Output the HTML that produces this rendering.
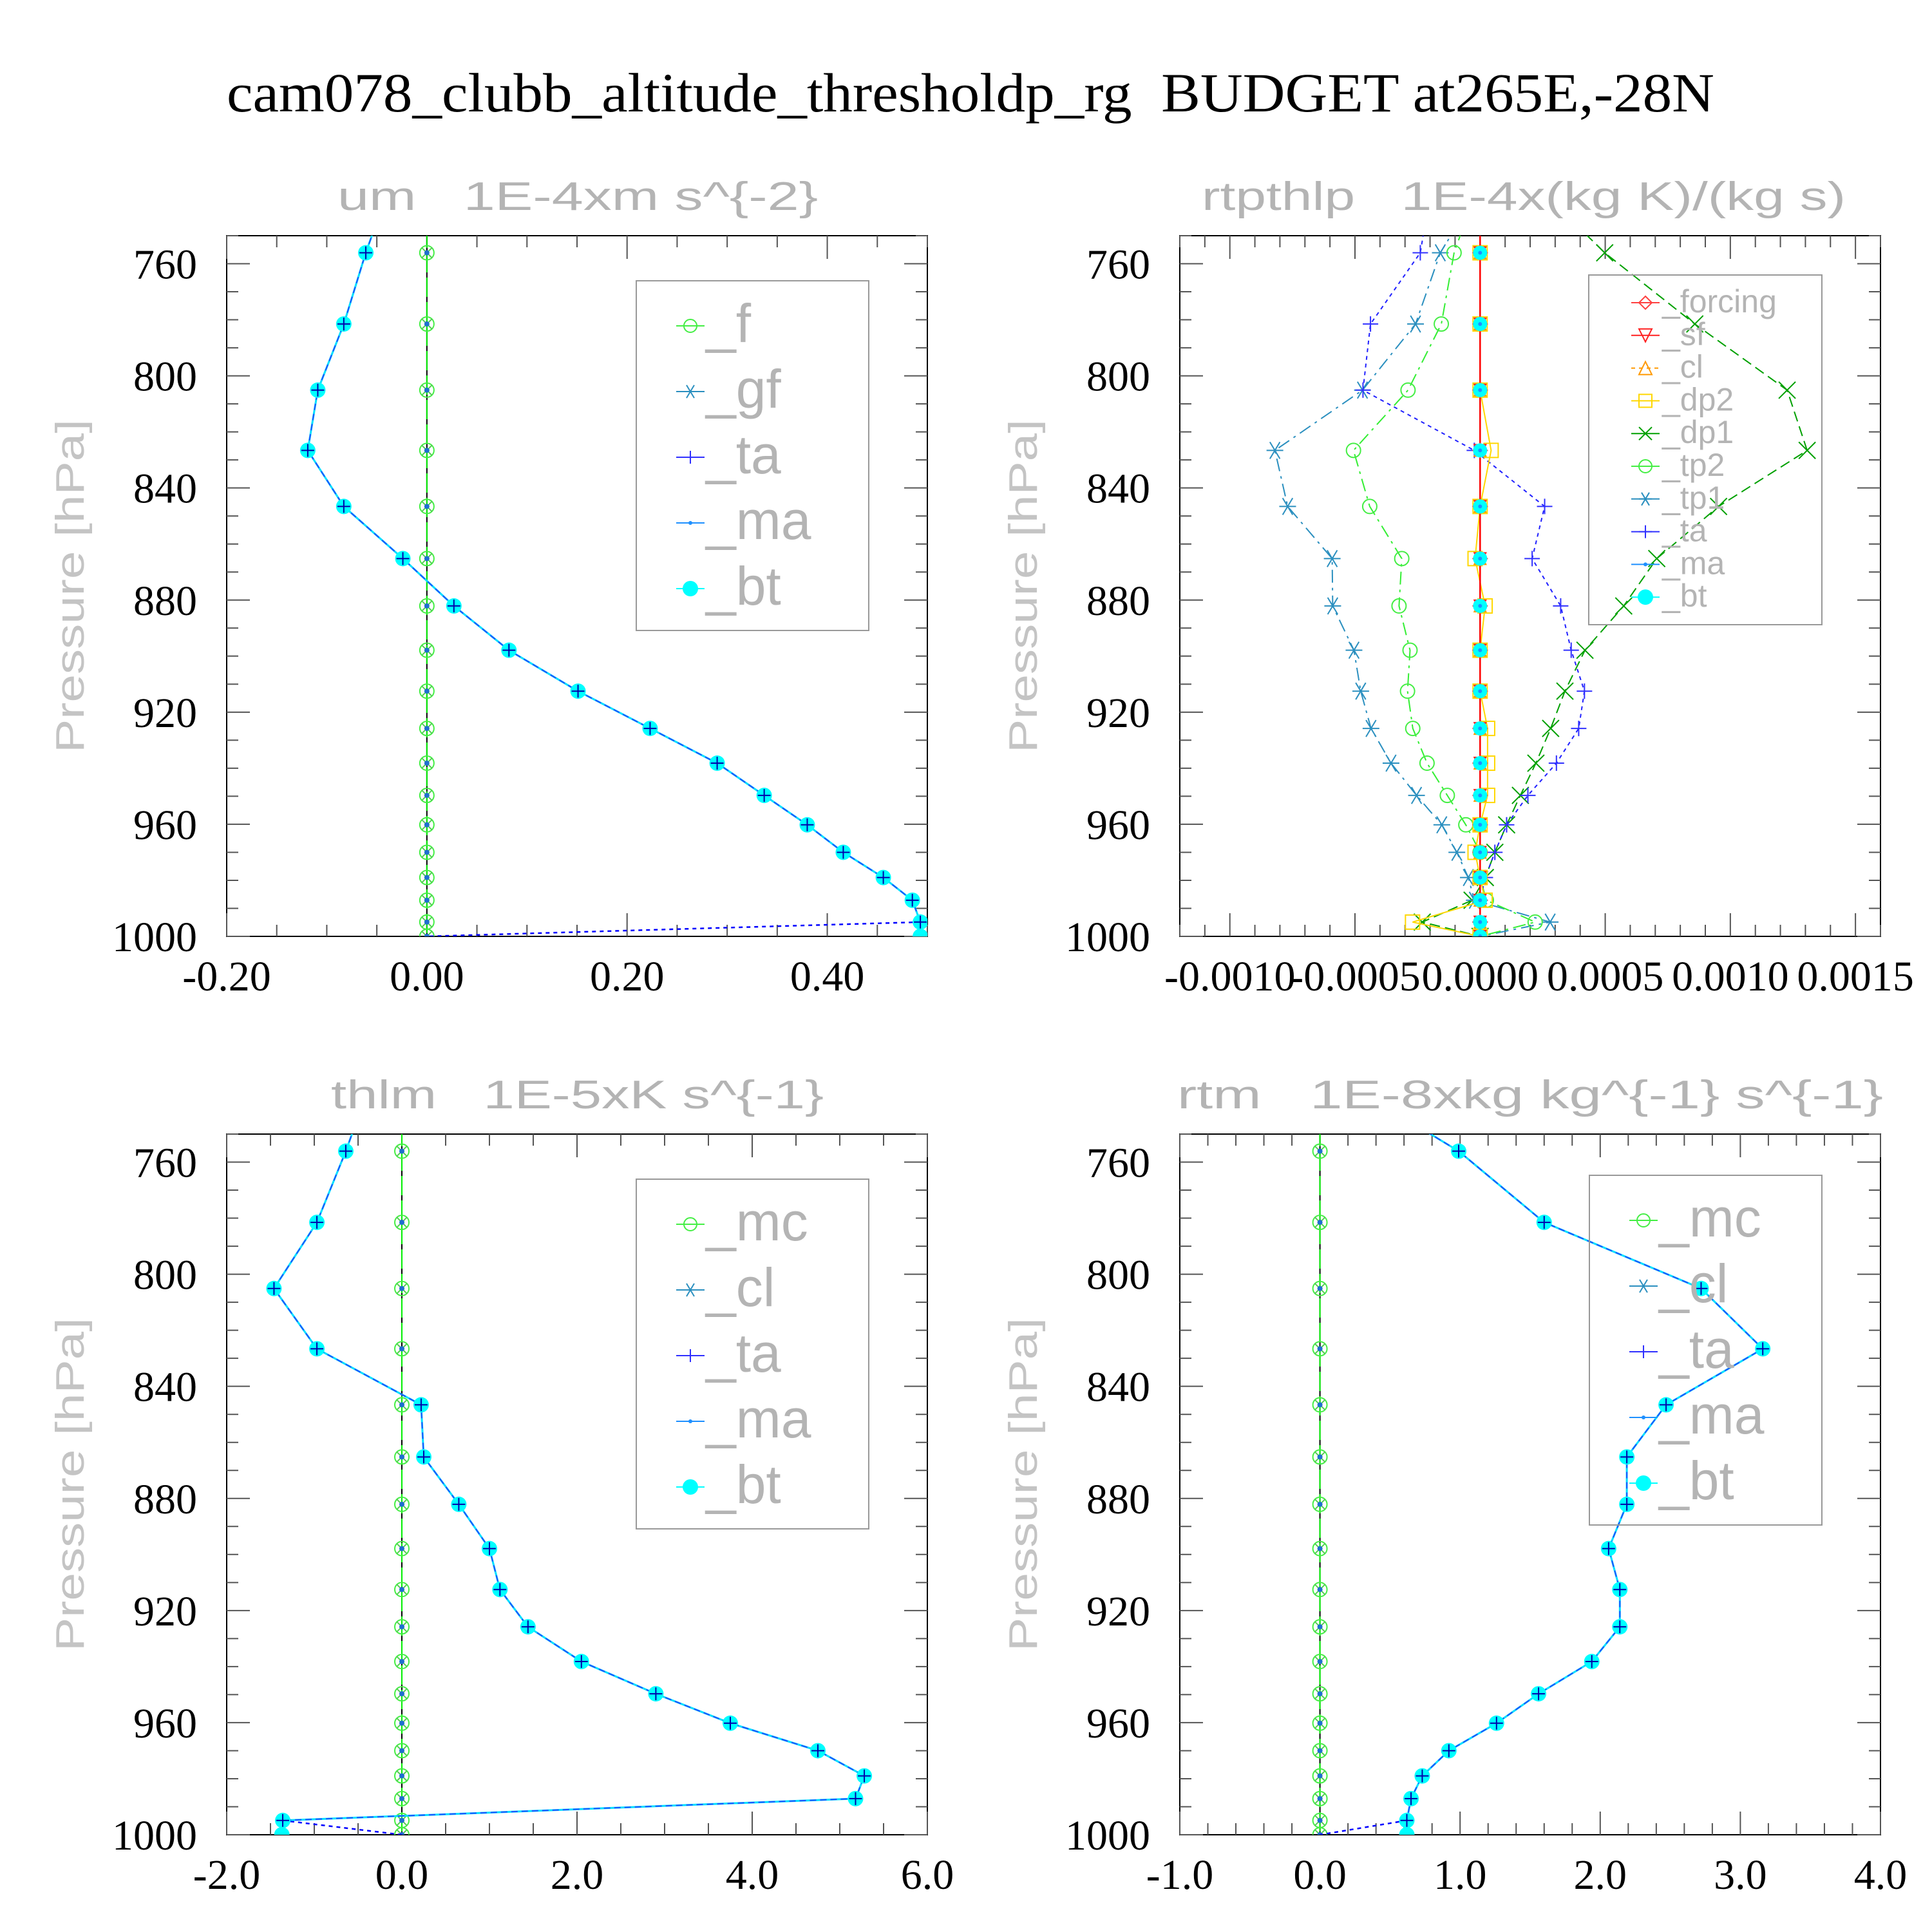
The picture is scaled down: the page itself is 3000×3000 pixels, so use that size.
<!DOCTYPE html>
<html><head><meta charset="utf-8"><style>
html,body{margin:0;padding:0;background:#fff;}
svg{display:block;}
text{white-space:pre;}
</style></head><body>
<svg id="chart" width="3000" height="3000" viewBox="0 0 3000 3000" xmlns="http://www.w3.org/2000/svg" xml:space="preserve">
<rect x="0" y="0" width="3000" height="3000" fill="#fff"/>
<text x="352" y="173" font-family="Liberation Serif, serif" font-size="86" textLength="2310" lengthAdjust="spacingAndGlyphs">cam078_clubb_altitude_thresholdp_rg  BUDGET at265E,-28N</text>
</svg>
<script>
// ---------- data ----------
const levels = [730,756.1,781.5,805.1,826.6,846.6,865.2,882.1,897.9,912.5,925.8,938.2,949.7,960.2,970.0,979.0,987.1,994.9,1000];
const pTicks = [760,800,840,880,920,960,1000];
// um panel
const umBt = [-0.035,-0.061,-0.083,-0.109,-0.119,-0.083,-0.024,0.027,0.082,0.151,0.223,0.290,0.337,0.380,0.416,0.456,0.485,0.493,0.493];
const umMa = [-0.035,-0.061,-0.083,-0.109,-0.119,-0.083,-0.024,0.027,0.082,0.151,0.223,0.290,0.337,0.380,0.416,0.456,0.485,0.493,null];
const umTa = [null,null,null,null,null,null,null,null,null,null,null,null,null,null,null,null,null,0.493,0];
const umTicks = [-0.2,0,0.2,0.4];
// thlm panel
const thlmBt = [-0.34,-0.64,-0.97,-1.46,-0.97,0.22,0.25,0.65,1.00,1.12,1.44,2.05,2.90,3.75,4.75,5.28,5.18,-1.36,-1.37];
const thlmMa = [-0.34,-0.64,-0.97,-1.46,-0.97,0.22,0.25,0.65,1.00,1.12,1.44,2.05,2.90,3.75,4.75,5.28,5.18,-1.36,null];
const thlmTa = [null,null,null,null,null,null,null,null,null,null,null,null,null,null,null,null,null,-1.36,0];
const thlmTicks = [-2,0,2,4,6];
// rtm panel
const rtmBt = [0.13,0.99,1.60,2.72,3.16,2.47,2.19,2.19,2.06,2.14,2.14,1.94,1.56,1.26,0.92,0.73,0.65,0.62,0.62];
const rtmMa = [0.13,0.99,1.60,2.72,3.16,2.47,2.19,2.19,2.06,2.14,2.14,1.94,1.56,1.26,0.92,0.73,0.65,0.62,null];
const rtmTa = [null,null,null,null,null,null,null,null,null,null,null,null,null,null,null,null,null,0.62,0];
const rtmTicks = [-1,0,1,2,3,4];
// rtpthlp panel
const rpTp1 = [0.00002,-0.000159,-0.000258,-0.00047,-0.00082,-0.000769,-0.000591,-0.000589,-0.000504,-0.000477,-0.000436,-0.000356,-0.000254,-0.000153,-0.000093,-0.000047,-0.000023,0.00028,0];
const rpTp2 = [0.0,-0.000104,-0.000155,-0.000288,-0.000506,-0.000441,-0.000313,-0.000324,-0.00028,-0.00029,-0.000269,-0.000212,-0.000131,-0.000057,0,0,0.000025,0.00022,0];
const rpTa = [-0.00019,-0.000239,-0.000438,-0.000468,-0.000023,0.000258,0.000208,0.000322,0.000364,0.000417,0.000394,0.000305,0.000191,0.000106,0.000059,0.000021,0,0,0];
const rpDp1 = [0.0002,0.000498,0.000858,0.001227,0.001307,0.000953,0.000706,0.000574,0.000419,0.000339,0.000282,0.000223,0.000161,0.000106,0.000059,0.000021,-0.000032,-0.000231,0];
const rpDp2 = [0,0,0,0,0.000044,0,-0.00002,0.00002,0,0,0.00003,0.00003,0.00003,0,-0.00002,0,0.00002,-0.00027,0];
const rpZero = [0,0,0,0,0,0,0,0,0,0,0,0,0,0,0,0,0,0,0];
const rpTicks = [-0.001,-0.0005,0,0.0005,0.001,0.0015];

// ---------- drawing ----------
const svg = document.getElementById('chart');
const NS = 'http://www.w3.org/2000/svg';
function mk(tag, attrs, parent){
  const e = document.createElementNS(NS, tag);
  for (const k in attrs) e.setAttribute(k, attrs[k]);
  (parent||svg).appendChild(e);
  return e;
}
function makePanel(cfg){
  const g = mk('g', {});
  
  
  const sx = v => cfg.x0 + (v - cfg.xmin) / (cfg.xmax - cfg.xmin) * (cfg.x1 - cfg.x0);
  const sy = p => cfg.y0 + (p - 750) / 250 * (cfg.y1 - cfg.y0);
  const clipId = 'clip-' + cfg.name;
  const cp = mk('clipPath', {id: clipId}, g);
  mk('rect', {x: cfg.x0, y: cfg.y0, width: cfg.x1 - cfg.x0, height: cfg.y1 - cfg.y0}, cp);
  const fr = mk('rect', {x: cfg.x0, y: cfg.y0, width: cfg.x1 - cfg.x0, height: cfg.y1 - cfg.y0, fill: 'none', stroke: '#000', 'stroke-width': 2}, g);
  
  
  for (let p = 750; p <= 1000; p += 10) {
    const y = sy(p);
    const len = (p % 40 === 0) ? 36 : 18;
    mk('line', {x1: cfg.x0, x2: cfg.x0 + len, y1: y, y2: y, stroke: '#555', 'stroke-width': 2}, g);
    mk('line', {x1: cfg.x1, x2: cfg.x1 - len, y1: y, y2: y, stroke: '#555', 'stroke-width': 2}, g);
  }
  pTicks.forEach(p => {
    const t = mk('text', {x: cfg.x0 - 46, y: sy(p) + 23, 'text-anchor': 'end', 'font-family': 'Liberation Serif, serif', 'font-size': 66}, g);
    
    
    t.textContent = String(p);
  });
  const nMinor = Math.round((cfg.xmax - cfg.xmin) / cfg.minor);
  for (let i = 0; i <= nMinor; i++) {
    const v = cfg.xmin + i * cfg.minor;
    const x = sx(v);
    const isMaj = Math.abs(v / cfg.major - Math.round(v / cfg.major)) < 1e-6;
    const len = isMaj ? 36 : 18;
    mk('line', {x1: x, x2: x, y1: cfg.y1, y2: cfg.y1 - len, stroke: '#555', 'stroke-width': 2}, g);
    mk('line', {x1: x, x2: x, y1: cfg.y0, y2: cfg.y0 + len, stroke: '#555', 'stroke-width': 2}, g);
  }
  cfg.ticks.forEach(v => {
    const t = mk('text', {x: sx(v), y: cfg.y1 + 84, 'text-anchor': 'middle', 'font-family': 'Liberation Serif, serif', 'font-size': 66}, g);
    
    
    t.textContent = v.toFixed(cfg.dec);
  });
  const tt = mk('text', {x: cfg.tx0, y: cfg.y0 - 40, 'font-family': 'Liberation Sans, sans-serif', 'font-size': 62, fill: '#b4b4b4', textLength: cfg.tx1 - cfg.tx0, lengthAdjust: 'spacingAndGlyphs'}, g);
  
  
  tt.textContent = cfg.title;
  const yc = (cfg.y0 + cfg.y1) / 2;
  const yl = mk('text', {x: 0, y: 0, transform: 'translate(' + (cfg.x0 - 222) + ',' + yc + ') rotate(-90)', 'text-anchor': 'middle', 'font-family': 'Liberation Sans, sans-serif', 'font-size': 62, fill: '#c4c4c4', textLength: 518, lengthAdjust: 'spacingAndGlyphs'}, g);
  
  
  yl.textContent = 'Pressure [hPa]';
  mk('line', {x1: sx(0), x2: sx(0), y1: cfg.y0, y2: cfg.y1, stroke: '#000', 'stroke-width': 2}, g);
  const plot = mk('g', {'clip-path': 'url(#' + clipId + ')'}, g);
  return {g, plot, sx, sy};
}
function line(P, vals, color, dash, width, name){
  let d = '', pen = false;
  vals.forEach((v, i) => {
    if (v === null) { pen = false; return; }
    d += (pen ? 'L' : 'M') + P.sx(v).toFixed(1) + ',' + P.sy(levels[i]).toFixed(1);
    pen = true;
  });
  const e = mk('path', {d: d, fill: 'none', stroke: color, 'stroke-width': width || 2.5, 'stroke-dasharray': dash || 'none'}, P.plot);
  
  
}
function marker(parent, type, x, y, color, r){
  if (type === 'dot') mk('circle', {cx: x, cy: y, r: r, fill: color}, parent);
  else if (type === 'circle') mk('circle', {cx: x, cy: y, r: r, fill: 'none', stroke: color, 'stroke-width': 2}, parent);
  else if (type === 'x') mk('path', {d: `M${x-r},${y-r}L${x+r},${y+r}M${x-r},${y+r}L${x+r},${y-r}`, stroke: color, 'stroke-width': 2}, parent);
  else if (type === 'plus') mk('path', {d: `M${x-r},${y}L${x+r},${y}M${x},${y-r}L${x},${y+r}`, stroke: color, 'stroke-width': 2}, parent);
  else if (type === 'star') mk('path', {d: `M${x-r},${y}L${x+r},${y}M${x-r*0.6},${y-r}L${x+r*0.6},${y+r}M${x-r*0.6},${y+r}L${x+r*0.6},${y-r}`, stroke: color, 'stroke-width': 2}, parent);
  else if (type === 'square') mk('rect', {x: x-r, y: y-r, width: 2*r, height: 2*r, fill: 'none', stroke: color, 'stroke-width': 2}, parent);
  else if (type === 'diamond') mk('path', {d: `M${x},${y-r}L${x+r},${y}L${x},${y+r}L${x-r},${y}Z`, fill: 'none', stroke: color, 'stroke-width': 2}, parent);
  else if (type === 'tri') mk('path', {d: `M${x},${y-r}L${x+r},${y+r}L${x-r},${y+r}Z`, fill: 'none', stroke: color, 'stroke-width': 2}, parent);
  else if (type === 'tridown') mk('path', {d: `M${x},${y+r}L${x+r},${y-r}L${x-r},${y-r}Z`, fill: 'none', stroke: color, 'stroke-width': 2}, parent);
}
function markers(P, vals, type, color, r, name){
  const grp = mk('g', {}, P.plot);
  
  
  vals.forEach((v, i) => { if (v !== null) marker(grp, type, P.sx(v), P.sy(levels[i]), color, r); });
}
function legend(P, box, items, fs){
  const g = mk('g', {}, P.g);
  
  
  mk('rect', {x: box.x, y: box.y, width: box.w, height: box.h, fill: 'none', stroke: '#999', 'stroke-width': 2}, g);
  items.forEach((it, i) => {
    const y = box.y + box.first + i * box.step;
    const eg = mk('g', {}, g);
    
    
    mk('line', {x1: box.x + box.sym - 22, x2: box.x + box.sym + 22, y1: y, y2: y, stroke: it.c, 'stroke-width': 2, 'stroke-dasharray': it.dash || 'none'}, eg);
    marker(eg, it.m, box.x + box.sym, y, it.c, it.r || 10);
    const t = mk('text', {x: box.x + box.txt, y: y + fs * 0.3, 'font-family': 'Liberation Sans, sans-serif', 'font-size': fs, fill: '#b4b4b4'}, eg);
    t.textContent = it.t;
  });
}
function zeroSeries(P){
  line(P, rpZero, '#00ee00', '30,8', 2, 'zero-line');
  markers(P, rpZero, 'circle', '#44ee44', 11, 'series-mc-markers');
  markers(P, rpZero, 'x', '#55cc55', 8, 'series-cl-markers');
  markers(P, rpZero, 'dot', '#1e6fcf', 4, 'series-ma-zero-markers');
}
function budgetPanel(cfg, bt, ma, ta, names){
  const P = makePanel(cfg);
  zeroSeries(P);
  line(P, ta, '#0000ff', '6,6', 2.5, 'series-ta-line');
  line(P, ma, '#00dfff', 'none', 3, 'series-bt-line');
  line(P, ma, '#1e50ff', '10,6', 2, 'series-ma-line');
  markers(P, bt, 'dot', '#00ffff', 12, 'series-bt-markers');
  markers(P, ma, 'plus', '#0000aa', 10, 'series-ma-markers');
  legend(P, cfg.leg, [
    {t: names[0], m: 'circle', c: '#44ee44'},
    {t: names[1], m: 'star', c: '#2a8fbf'},
    {t: '_ta', m: 'plus', c: '#3030ff'},
    {t: '_ma', m: 'dot', c: '#1e90ff', r: 3},
    {t: '_bt', m: 'dot', c: '#00ffff', r: 12}
  ], 84);
  return P;
}
const legA = {x: 988, w: 361, y: 436, h: 543, first: 70, step: 102, sym: 84, txt: 108};
budgetPanel({name: 'panel-um', x0: 352, x1: 1440, y0: 366, y1: 1454, xmin: -0.2, xmax: 0.5, major: 0.2, minor: 0.05, ticks: umTicks, dec: 2,
  title: 'um   1E-4xm s^{-2}', tx0: 524, tx1: 1270, leg: legA}, umBt, umMa, umTa, ['_f', '_gf']);
budgetPanel({name: 'panel-thlm', x0: 352, x1: 1440, y0: 1761, y1: 2849, xmin: -2, xmax: 6, major: 2, minor: 0.5, ticks: thlmTicks, dec: 1,
  title: 'thlm   1E-5xK s^{-1}', tx0: 514, tx1: 1279, leg: Object.assign({}, legA, {y: 1831})}, thlmBt, thlmMa, thlmTa, ['_mc', '_cl']);
budgetPanel({name: 'panel-rtm', x0: 1832, x1: 2920, y0: 1761, y1: 2849, xmin: -1, xmax: 4, major: 1, minor: 0.2, ticks: rtmTicks, dec: 1,
  title: 'rtm   1E-8xkg kg^{-1} s^{-1}', tx0: 1828, tx1: 2924, leg: Object.assign({}, legA, {x: 2468, y: 1825})}, rtmBt, rtmMa, rtmTa, ['_mc', '_cl']);

(function(){
  const P = makePanel({name: 'panel-rtpthlp', x0: 1832, x1: 2920, y0: 366, y1: 1454, xmin: -0.0012, xmax: 0.0016, major: 0.0005, minor: 0.0001, ticks: rpTicks, dec: 4,
    title: 'rtpthlp   1E-4x(kg K)/(kg s)', tx0: 1866, tx1: 2866});
  line(P, rpDp1, '#00a000', '16,8', 2, 'series-dp1-line');
  markers(P, rpDp1, 'x', '#00a000', 13, 'series-dp1-markers');
  line(P, rpTp1, '#2a8fbf', '20,8,4,8', 2, 'series-tp1-line');
  markers(P, rpTp1, 'star', '#2a8fbf', 13, 'series-tp1-markers');
  line(P, rpTp2, '#33ee33', '20,8,4,8', 2, 'series-tp2-line');
  markers(P, rpTp2, 'circle', '#44ee44', 11, 'series-tp2-markers');
  line(P, rpTa, '#2020ff', '6,6', 2, 'series-ta-line');
  markers(P, rpTa, 'plus', '#3030ff', 12, 'series-ta-markers');
  line(P, rpDp2, '#ffd700', 'none', 2, 'series-dp2-line');
  markers(P, rpDp2, 'square', '#ffd700', 11, 'series-dp2-markers');
  line(P, rpZero, '#ff0000', 'none', 2.5, 'series-forcing-line');
  markers(P, rpZero, 'diamond', '#ff4040', 11, 'series-forcing-markers');
  markers(P, rpZero, 'tridown', '#ff2020', 9, 'series-sf-markers');
  markers(P, rpZero, 'tri', '#ff9900', 9, 'series-cl-markers');
  markers(P, rpZero, 'dot', '#00ffff', 11, 'series-bt-markers');
  markers(P, rpZero, 'dot', '#1e90ff', 3, 'series-ma-markers');
  legend(P, {x: 2467, w: 362, y: 427, h: 543, first: 43, step: 50.8, sym: 88, txt: 114}, [
    {t: '_forcing', m: 'diamond', c: '#ff4040'},
    {t: '_sf', m: 'tridown', c: '#ff2020'},
    {t: '_cl', m: 'tri', c: '#ff9900', dash: '6,6'},
    {t: '_dp2', m: 'square', c: '#ffd700'},
    {t: '_dp1', m: 'x', c: '#00a000'},
    {t: '_tp2', m: 'circle', c: '#44ee44'},
    {t: '_tp1', m: 'star', c: '#2a8fbf'},
    {t: '_ta', m: 'plus', c: '#3030ff'},
    {t: '_ma', m: 'dot', c: '#1e90ff', r: 3},
    {t: '_bt', m: 'dot', c: '#00ffff', r: 12}
  ], 50);
})();
</script>
</body></html>
